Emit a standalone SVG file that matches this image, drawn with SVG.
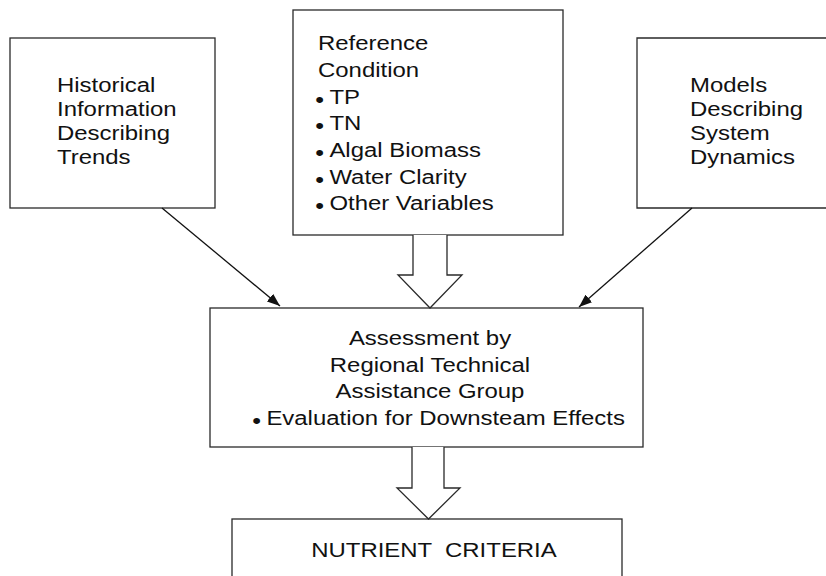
<svg xmlns="http://www.w3.org/2000/svg" width="826" height="576" viewBox="0 0 826 576">
<style>
.bg{fill:#fff}
.box{fill:#fff;stroke:#2a2a2a;stroke-width:1.3}
.t{font-family:"Liberation Sans",Arial,Helvetica,sans-serif;font-size:21px;fill:#111}
.b{font-size:22px}
.ln{stroke:#111;stroke-width:1.3;fill:none}
.hol{fill:#fff;stroke:#2a2a2a;stroke-width:1.3;stroke-linejoin:miter}
</style>
<defs>
<marker id="ah" viewBox="0 0 13 10" refX="13" refY="5" markerWidth="13" markerHeight="10" markerUnits="userSpaceOnUse" orient="auto">
<path d="M0,0 L13,5 L0,10 z" fill="#111"/>
</marker>
</defs>
<rect class="bg" x="0" y="0" width="826" height="576"/>

<g id="historical">
<rect class="box" x="10" y="38" width="205" height="170"/>
<g transform="translate(57,0) scale(1.14,1)">
<text class="t" x="0" y="92">Historical</text>
<text class="t" x="0" y="116">Information</text>
<text class="t" x="0" y="140">Describing</text>
<text class="t" x="0" y="164">Trends</text>
</g>
</g>

<g id="reference">
<rect class="box" x="293" y="10" width="270" height="225"/>
<g transform="translate(318,0) scale(1.14,1)">
<text class="t" x="0" y="50">Reference</text>
<text class="t" x="0" y="77">Condition</text>
<text class="t" y="104"><tspan class="b" x="-2.5" dy="3">•</tspan><tspan x="10" dy="-3">TP</tspan></text>
<text class="t" y="130"><tspan class="b" x="-2.5" dy="3">•</tspan><tspan x="10" dy="-3">TN</tspan></text>
<text class="t" y="157"><tspan class="b" x="-2.5" dy="3">•</tspan><tspan x="10" dy="-3">Algal Biomass</tspan></text>
<text class="t" y="184"><tspan class="b" x="-2.5" dy="3">•</tspan><tspan x="10" dy="-3">Water Clarity</tspan></text>
<text class="t" y="210"><tspan class="b" x="-2.5" dy="3">•</tspan><tspan x="10" dy="-3">Other Variables</tspan></text>
</g>
</g>

<g id="models">
<path class="box" d="M828,38 H637 V208 H828"/>
<g transform="translate(690,0) scale(1.14,1)">
<text class="t" x="0" y="92">Models</text>
<text class="t" x="0" y="116">Describing</text>
<text class="t" x="0" y="140">System</text>
<text class="t" x="0" y="164">Dynamics</text>
</g>
</g>

<g id="assessment">
<rect class="box" x="210" y="308" width="433" height="139"/>
<g transform="translate(430,0) scale(1.14,1)">
<text class="t" x="0" y="345" text-anchor="middle">Assessment by</text>
<text class="t" x="0" y="372" text-anchor="middle">Regional Technical</text>
<text class="t" x="0" y="398" text-anchor="middle">Assistance Group</text>
</g>
<g transform="translate(255,0) scale(1.14,1)">
<text class="t" y="425"><tspan class="b" x="-2.5" dy="3">•</tspan><tspan x="10" dy="-3">Evaluation for Downsteam Effects</tspan></text>
</g>
</g>

<g id="nutrient">
<rect class="box" x="232" y="519" width="390" height="80"/>
<g transform="translate(434,0) scale(1.14,1)">
<text class="t" x="0" y="557" text-anchor="middle" xml:space="preserve">NUTRIENT  CRITERIA</text>
</g>
</g>

<g id="connectors">
<line class="ln" x1="162" y1="208" x2="280" y2="306" marker-end="url(#ah)"/>
<line class="ln" x1="692" y1="208" x2="579" y2="307" marker-end="url(#ah)"/>
<path class="hol" d="M413,235 V275 H398 L430,308 L462,275 H447 V235"/>
<path class="hol" d="M412,447 V488 H397 L428.5,519 L460,488 H444 V447"/>
</g>
</svg>
